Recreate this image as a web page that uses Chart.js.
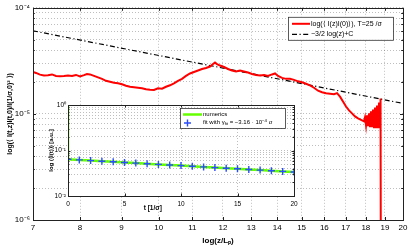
<!DOCTYPE html>
<html><head><meta charset="utf-8">
<script src="https://cdn.jsdelivr.net/npm/chart.js@4.4.1/dist/chart.umd.min.js"></script>
<style>
html,body{margin:0;padding:0;background:#fff;}
#wrap{position:relative;width:415px;height:249px;overflow:hidden;}
#main{position:absolute;left:0;top:0;}
#inset{position:absolute;left:30px;top:95px;}
</style></head><body>
<div id="wrap"><canvas id="main" width="415" height="249"></canvas><canvas id="inset" width="275" height="120"></canvas></div>
<script>
// ---------- main panel data ----------
const zValues = [
  7.000, 7.060, 7.140, 7.222, 7.304, 7.388, 7.472, 7.557, 7.644, 7.731,
  7.819, 7.908, 7.999, 8.090, 8.159, 8.229, 8.323, 8.418, 8.514, 8.611,
  8.709, 8.809, 8.909, 9.011, 9.114, 9.218, 9.323, 9.429, 9.537, 9.646,
  9.756, 9.867, 9.980, 10.094, 10.209, 10.326, 10.443, 10.563, 10.683, 10.805,
  10.929, 11.053, 11.180, 11.307, 11.436, 11.567, 11.666, 11.732, 11.799, 11.900,
  12.036, 12.173, 12.312, 12.453, 12.595, 12.738, 12.884, 13.031, 13.180, 13.330,
  13.482, 13.636, 13.792, 13.910, 14.029, 14.189, 14.351, 14.515, 14.680, 14.848,
  15.017, 15.189, 15.362, 15.537, 15.715, 15.894, 16.075, 16.259, 16.444, 16.585,
  16.727, 16.869, 17.014, 17.160, 17.306, 17.454, 17.604, 17.754, 17.906, 17.957,
  18.008, 18.059, 18.110, 18.162, 18.214, 18.266, 18.317, 18.369, 18.422, 18.474,
  18.526, 18.579, 18.632, 18.685, 18.738, 18.765, 18.792
];
const corrValues = [
  2.485e-5, 2.432e-5, 2.345e-5, 2.305e-5, 2.315e-5, 2.355e-5, 2.280e-5, 2.266e-5, 2.280e-5, 2.305e-5,
  2.280e-5, 2.330e-5, 2.256e-5, 2.320e-5, 2.380e-5, 2.355e-5, 2.280e-5, 2.209e-5, 2.139e-5, 2.049e-5,
  2.006e-5, 1.963e-5, 1.942e-5, 1.901e-5, 1.841e-5, 1.802e-5, 1.783e-5, 1.764e-5, 1.745e-5, 1.708e-5,
  1.690e-5, 1.679e-5, 1.745e-5, 1.726e-5, 1.802e-5, 1.861e-5, 1.942e-5, 2.049e-5, 2.139e-5, 2.280e-5,
  2.406e-5, 2.485e-5, 2.566e-5, 2.650e-5, 2.708e-5, 2.796e-5, 2.950e-5, 3.046e-5, 2.950e-5, 2.856e-5,
  2.765e-5, 2.650e-5, 2.566e-5, 2.512e-5, 2.566e-5, 2.512e-5, 2.459e-5, 2.380e-5, 2.330e-5, 2.305e-5,
  2.330e-5, 2.280e-5, 2.355e-5, 2.406e-5, 2.280e-5, 2.185e-5, 2.139e-5, 2.139e-5, 2.094e-5, 2.028e-5,
  1.985e-5, 1.922e-5, 1.861e-5, 1.764e-5, 1.654e-5, 1.602e-5, 1.568e-5, 1.551e-5, 1.535e-5, 1.568e-5,
  1.455e-5, 1.307e-5, 1.174e-5, 1.078e-5, 1.011e-5, 0.948e-5, 0.908e-5, 0.879e-5, 0.851e-5, 0.928e-5,
  0.781e-5, 0.968e-5, 0.765e-5, 1.011e-5, 0.749e-5, 1.055e-5, 0.749e-5, 1.101e-5, 0.733e-5, 1.149e-5,
  0.733e-5, 1.200e-5, 0.733e-5, 1.279e-5, 0.749e-5, 1.394e-5, 3.0e-8
];
const slopeZ = [7, 20];
const slopeValues = [6.07e-5, 1.255e-5];
const xTickValues = [7, 8, 9, 10, 11, 12, 13, 14, 15, 16, 17, 18, 19, 20];
const xTickLabels = ['7','8','9','10','11','12','13','14','15','16','17','18','19','20'];
const yMajorTicks = [1e-6, 1e-5, 1e-4];
const yTickLabels = ['10\u207B\u2076', '10\u207B\u2075', '10\u207B\u2074'];
const mainXTitle = 'log(z/L\u209A)';
const mainYTitle = 'log(\u27E8 I(t,z)I(t,0)/I(1/\u03C3,0)\u00B2 \u27E9)';
const mainLegendLabels = ['log(\u27E8 I(z)I(0)\u27E9), T=25 /\u03C3', '\u22123/2 log(z)+C'];

// ---------- inset data ----------
const numericsT = [0, 0, 1, 2, 3, 4, 5, 6, 7, 8, 9, 10, 11, 12, 13, 14, 15, 16, 17, 18, 19, 20];
const numericsV = [1.0, 0.0640, 0.0621, 0.0600, 0.0582, 0.0564, 0.0545, 0.0528, 0.0513, 0.0495, 0.0480,
                   0.0466, 0.0450, 0.0436, 0.0421, 0.0408, 0.0396, 0.0382, 0.0371, 0.0360, 0.0347, 0.0337];
const fitT = [0, 1, 2, 3, 4, 5, 6, 7, 8, 9, 10, 11, 12, 13, 14, 15, 16, 17, 18, 19, 20];
const fitV = [0.0640, 0.0621, 0.0600, 0.0582, 0.0564, 0.0545, 0.0528, 0.0513, 0.0495, 0.0480,
              0.0466, 0.0450, 0.0436, 0.0421, 0.0408, 0.0396, 0.0382, 0.0371, 0.0360, 0.0347, 0.0337];
const insetXTicks = [0, 5, 10, 15, 20];
const insetXTickLabels = ['0', '5', '10', '15', '20'];
const insetYMajor = [0.01, 0.1, 1];
const insetYTickLabels = ['10\u207B\u00B2', '10\u207B\u00B9', '10\u2070'];
const insetXTitle = 't [1/\u03C3]';
const insetYTitle = 'log (\u27E8I(t)\u27E9) [a.u.]';
const insetLegendNumerics = 'numerics';
const insetLegendFit = [
  {t: 'fit with \u03B3'}, {t: 'fit', sub: true}, {t: ' = \u22123.16 \u00B7 10'}, {t: '\u22124', sup: true}, {t: ' \u03C3'}
];

// ---------- helpers ----------
const FAM = '"Liberation Sans", Arial, Helvetica, sans-serif';
function logTickList(min, max) {
  const out = [];
  const e0 = Math.round(Math.log10(min)), e1 = Math.round(Math.log10(max));
  for (let e = e0; e < e1; e++) for (let m = 1; m < 10; m++) out.push(m * Math.pow(10, e));
  out.push(max);
  return out;
}
function isDecade(v) { const l = Math.log10(v); return Math.abs(l - Math.round(l)) < 1e-6; }
function labelFor(v, majors, labels) {
  const i = majors.findIndex(t => Math.abs(Math.log10(t) - Math.log10(v)) < 1e-6);
  return i >= 0 ? labels[i] : '';
}
function drawRich(ctx, parts, x, y, size, color) {
  ctx.fillStyle = color || '#000';
  ctx.textBaseline = 'middle';
  ctx.textAlign = 'left';
  parts.forEach(p => {
    const s = (p.sub || p.sup) ? size * 0.72 : size;
    ctx.font = s + 'px ' + FAM;
    const dy = p.sub ? size * 0.3 : (p.sup ? -size * 0.35 : 0);
    ctx.fillText(p.t, x, y + dy);
    x += ctx.measureText(p.t).width;
  });
}
const gridOpts = {color: 'rgba(0,0,0,0.32)', lineWidth: 0.8, drawTicks: false};
const borderOpts = {display: false, dash: [1, 2]};

const framePlugin = {
  id: 'frame',
  afterDatasetsDraw(chart, args, opts) {
    const {ctx, chartArea: a, scales} = chart;
    const L = opts.tick || 3;
    ctx.save();
    ctx.strokeStyle = '#222';
    ctx.lineWidth = 1;
    ctx.setLineDash([]);
    ctx.beginPath();
    scales.x.ticks.forEach(t => {
      const px = Math.round(scales.x.getPixelForValue(t.value)) + 0.5;
      ctx.moveTo(px, a.bottom); ctx.lineTo(px, a.bottom - L);
      ctx.moveTo(px, a.top); ctx.lineTo(px, a.top + L);
    });
    scales.y.ticks.forEach(t => {
      const py = Math.round(scales.y.getPixelForValue(t.value)) + 0.5;
      const len = isDecade(t.value) ? L : L * 0.6;
      ctx.moveTo(a.left, py); ctx.lineTo(a.left + len, py);
      ctx.moveTo(a.right, py); ctx.lineTo(a.right - len, py);
    });
    ctx.stroke();
    ctx.strokeRect(Math.round(a.left) + 0.5, Math.round(a.top) + 0.5,
                   Math.round(a.right - a.left), Math.round(a.bottom - a.top));
    ctx.restore();
  }
};

const mainLegendPlugin = {
  id: 'mainLegend',
  afterDraw(chart) {
    const {ctx, chartArea: a} = chart;
    const bx = a.right - 115, by = a.top + 9, bw = 105, bh = 23;
    ctx.save();
    ctx.fillStyle = '#fff';
    ctx.fillRect(bx, by, bw, bh);
    ctx.strokeStyle = '#333';
    ctx.lineWidth = 0.8;
    ctx.strokeRect(bx + 0.5, by + 0.5, bw, bh);
    const ds = chart.data.datasets;
    const rows = [by + 7, by + 17.5];
    rows.forEach((ry, i) => {
      ctx.beginPath();
      ctx.strokeStyle = ds[i].borderColor;
      ctx.lineWidth = ds[i].borderWidth;
      ctx.setLineDash(ds[i].borderDash || []);
      ctx.moveTo(bx + 4, ry); ctx.lineTo(bx + 22, ry);
      ctx.stroke();
      ctx.setLineDash([]);
      drawRich(ctx, [{t: ds[i].label}], bx + 23, ry, 7);
    });
    ctx.restore();
  }
};

// ---------- main chart ----------
new Chart(document.getElementById('main'), {
  type: 'line',
  data: {
    datasets: [
      {label: mainLegendLabels[0], data: zValues.map((z, i) => ({x: z, y: corrValues[i]})),
       borderColor: '#ff0000', borderWidth: 2, pointRadius: 0, tension: 0, fill: false},
      {label: mainLegendLabels[1], data: slopeZ.map((z, i) => ({x: z, y: slopeValues[i]})),
       borderColor: '#000000', borderWidth: 1.2, borderDash: [5, 2.5, 1.2, 2.5], pointRadius: 0, fill: false}
    ]
  },
  options: {
    responsive: false, animation: false, devicePixelRatio: 1,
    layout: {padding: {left: 0, right: 12, top: 5, bottom: 0}},
    plugins: {legend: {display: false}, tooltip: {enabled: false}, frame: {tick: 3}},
    scales: {
      x: {
        type: 'logarithmic', min: 7, max: 20,
        afterBuildTicks: s => { s.ticks = xTickValues.map(v => ({value: v})); },
        afterFit: s => { s.height = 29; },
        ticks: {autoSkip: false, maxRotation: 0, minRotation: 0, padding: 3, color: '#000',
                font: {family: FAM, size: 8}, callback: (v, i) => xTickLabels[i]},
        grid: gridOpts, border: borderOpts,
        title: {display: true, text: mainXTitle, color: '#000', font: {family: FAM, size: 8, weight: 'bold'},
                padding: {top: 0, bottom: 3}}
      },
      y: {
        type: 'logarithmic', min: 1e-6, max: 1e-4,
        afterBuildTicks: s => { s.ticks = logTickList(1e-6, 1e-4).map(v => ({value: v})); },
        afterFit: s => { s.width = 33; },
        ticks: {autoSkip: false, padding: 3, color: '#000', font: {family: FAM, size: 8},
                callback: v => labelFor(v, yMajorTicks, yTickLabels)},
        grid: gridOpts, border: borderOpts,
        title: {display: true, text: mainYTitle, color: '#000', font: {family: FAM, size: 7, weight: 'bold'},
                padding: {top: 6, bottom: 0}}
      }
    }
  },
  plugins: [framePlugin, mainLegendPlugin]
});

// ---------- inset chart ----------
const insetPlugin = {
  id: 'insetExtras',
  beforeDraw(chart) {
    const {ctx, chartArea: a} = chart;
    ctx.save();
    ctx.fillStyle = '#fff';
    ctx.fillRect(a.left, a.top, a.right - a.left, a.bottom - a.top);
    ctx.restore();
  },
  afterDraw(chart) {
    const {ctx, chartArea: a} = chart;
    ctx.save();
    // x title (placed on the tick row, between the 5 and 10 labels)
    ctx.fillStyle = '#000';
    ctx.font = 'bold 6.5px ' + FAM;
    ctx.textAlign = 'center';
    ctx.textBaseline = 'middle';
    ctx.fillText(insetXTitle, a.left + (a.right - a.left) * 0.375, a.bottom + 12);
    // legend
    const bx = a.left + 112, by = a.top + 3, bw = 105, bh = 20;
    ctx.fillStyle = '#fff';
    ctx.fillRect(bx, by, bw, bh);
    ctx.strokeStyle = '#333';
    ctx.lineWidth = 0.8;
    ctx.strokeRect(bx + 0.5, by + 0.5, bw, bh);
    const ds = chart.data.datasets;
    const r1 = by + 6.5, r2 = by + 14.5;
    ctx.beginPath();
    ctx.strokeStyle = ds[1].borderColor; ctx.lineWidth = ds[1].borderWidth;
    ctx.moveTo(bx + 3, r1); ctx.lineTo(bx + 22, r1); ctx.stroke();
    drawRich(ctx, [{t: insetLegendNumerics}], bx + 23, r1, 6);
    ctx.beginPath();
    ctx.strokeStyle = ds[0].borderColor; ctx.lineWidth = ds[0].borderWidth;
    ctx.moveTo(bx + 7.5 - 3.5, r2 + 0.5); ctx.lineTo(bx + 7.5 + 3.5, r2 + 0.5);
    ctx.moveTo(bx + 7.5, r2 - 3); ctx.lineTo(bx + 7.5, r2 + 4);
    ctx.stroke();
    drawRich(ctx, insetLegendFit, bx + 23, r2, 6);
    ctx.restore();
  }
};

new Chart(document.getElementById('inset'), {
  type: 'line',
  data: {
    datasets: [
      {label: 'fit', data: fitT.map((t, i) => ({x: t, y: fitV[i]})), showLine: false,
       pointStyle: 'cross', pointRadius: 3.5, borderColor: '#2a4cff', borderWidth: 1.4, pointBorderWidth: 1.4},
      {label: 'numerics', data: numericsT.map((t, i) => ({x: t, y: numericsV[i]})),
       borderColor: '#66ff00', borderWidth: 2.5, pointRadius: 0, tension: 0, fill: false}
    ]
  },
  options: {
    responsive: false, animation: false, devicePixelRatio: 1,
    layout: {padding: {left: 0, right: 11, top: 10, bottom: 0}},
    plugins: {legend: {display: false}, tooltip: {enabled: false}, frame: {tick: 2.5}},
    scales: {
      x: {
        type: 'linear', min: 0, max: 20,
        afterBuildTicks: s => { s.ticks = insetXTicks.map(v => ({value: v})); },
        afterFit: s => { s.height = 19; },
        ticks: {autoSkip: false, maxRotation: 0, padding: 4, color: '#000', font: {family: FAM, size: 6.5},
                callback: (v, i) => insetXTickLabels[i]},
        grid: gridOpts, border: borderOpts
      },
      y: {
        type: 'logarithmic', min: 0.01, max: 1,
        afterBuildTicks: s => { s.ticks = logTickList(0.01, 1).map(v => ({value: v})); },
        afterFit: s => { s.width = 38; },
        ticks: {autoSkip: false, padding: 2, color: '#000', font: {family: FAM, size: 6.5},
                callback: v => labelFor(v, insetYMajor, insetYTickLabels)},
        grid: gridOpts, border: borderOpts,
        title: {display: true, text: insetYTitle, color: '#000', font: {family: FAM, size: 6, weight: 'bold'},
                padding: {top: 18, bottom: 0}}
      }
    }
  },
  plugins: [framePlugin, insetPlugin]
});
</script>
</body></html>
